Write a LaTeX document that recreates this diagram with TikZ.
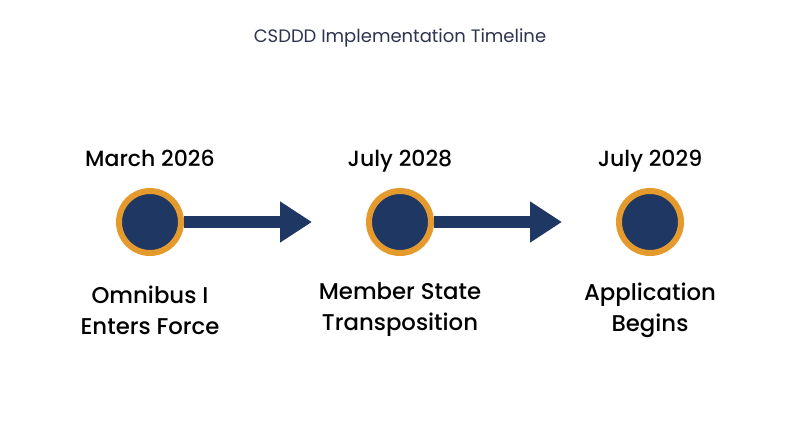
\documentclass[tikz,border=0pt]{standalone}
\usepackage{fontspec}
\setmainfont{Poppins}[BoldFont={Poppins Medium}]
\usetikzlibrary{arrows.meta}
\definecolor{navy}{HTML}{1F3763}
\definecolor{amber}{HTML}{E49A2C}
\definecolor{titlegray}{HTML}{2E3350}
\tikzset{
  milestone/.style={circle, draw=amber, line width=6pt, fill=navy, minimum size=62pt, inner sep=0pt},
  datelabel/.style={font=\bfseries\fontsize{22}{28}\selectfont, text=black, anchor=base},
  eventlabel/.style={font=\bfseries\fontsize{22.8}{31}\selectfont, text=black, align=center},
  flow/.style={navy, line width=12pt, -{Triangle[length=32pt,width=39pt]}}
}
\begin{document}
\begin{tikzpicture}[x=1pt,y=-1pt]
        \useasboundingbox[fill=white] (0,0) rectangle (800,447);
        %%Title
        \node[font=\fontsize{18}{22}\selectfont, text=titlegray] (title) at (400,38) {CSDDD Implementation Timeline};
        %%Milestones
        \node[milestone] (m1) at (150,222) {};
        \node[milestone] (m2) at (400,222) {};
        \node[milestone] (m3) at (650,222) {};
        %%Dates
        \node[datelabel] (d1) at (150,166) {March 2026};
        \node[datelabel] (d2) at (400,166) {July 2028};
        \node[datelabel] (d3) at (650,166) {July 2029};
        %%Events
        \node[eventlabel] (e1) at (150,310) {Omnibus I\\Enters Force};
        \node[eventlabel] (e2) at (400,310) {Member State\\Transposition};
        \node[eventlabel] (e3) at (650,310) {Application\\Begins};
        %%Arrows
        \draw[flow, shorten >=54pt] (m1) -- (m2);
        \draw[flow, shorten >=54pt] (m2) -- (m3);
\end{tikzpicture}
\end{document}
